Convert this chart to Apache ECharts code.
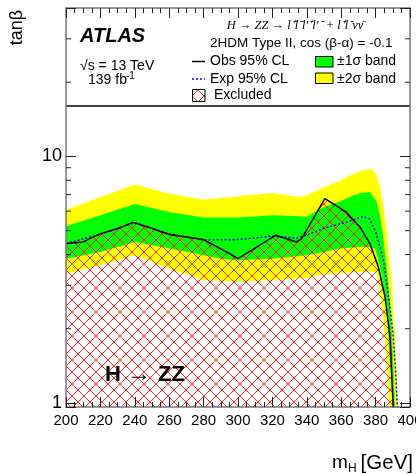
<!DOCTYPE html>
<html><head><meta charset="utf-8">
<script src="https://cdn.jsdelivr.net/npm/echarts@6/dist/echarts.min.js"></script>
<style>html,body{margin:0;padding:0;background:#fff}#c{width:416px;height:474px}</style>
</head><body><div id="c"></div>
<script>
// ---------------- data ----------------
const yLabelValues = [1, 10];
const yMinorTicks = [2, 3, 4, 5, 6, 7, 8, 9, 20, 30];

const obsMass = [200, 210, 220, 230, 239, 249, 260, 280, 295, 300, 322, 334, 337, 350.5, 363, 365, 371, 376.7, 381.6, 385.5, 388.4, 390.3];
const obsVal  = [4.43, 4.50, 4.86, 5.10, 5.40, 5.14, 4.82, 4.60, 4.04, 3.85, 4.79, 4.50, 4.64, 6.74, 5.95, 5.72, 5.17, 4.43, 3.56, 2.69, 1.86, 0.95];

const expMass = [200, 220, 240, 260, 280, 300, 320, 334, 340, 350, 360, 366, 373, 376.5, 380, 382.5, 384.5, 386.5, 388.5, 390, 391.5, 392.7];
const expVal  = [4.43, 4.84, 5.38, 4.85, 4.58, 4.60, 4.75, 4.66, 4.80, 5.12, 5.33, 5.50, 5.71, 5.59, 4.95, 4.30, 3.79, 3.05, 2.40, 1.94, 1.40, 0.95];

const yellowHighMass = [200, 220, 240, 260, 280, 295, 300, 320, 336, 340, 350, 360, 365, 372, 377.7, 380.5, 382.6, 384.5, 386.4, 389.4, 391.3, 393];
const yellowHigh     = [6.08, 6.84, 7.70, 7.06, 6.68, 6.84, 6.89, 7.10, 6.85, 6.95, 7.51, 8.00, 8.38, 8.75, 8.92, 8.40, 7.51, 6.30, 5.00, 3.06, 1.92, 0.95];

const greenHighMass = [200, 220, 240, 260, 280, 300, 320, 340, 350, 360, 365, 371, 376.7, 380.4, 382.5, 384.5, 387.4, 389.4, 391.3];
const greenHigh     = [5.21, 5.77, 6.41, 5.95, 5.65, 5.65, 5.77, 5.71, 6.23, 6.60, 6.84, 7.10, 7.17, 6.63, 5.80, 4.71, 3.06, 1.97, 0.95];

const greenLowMass = [200, 220, 240, 260, 280, 290, 300, 320, 340, 350, 360, 370, 375, 379.6, 381.6, 384.5, 386.4, 387.9, 390];
const greenLow     = [3.85, 4.10, 4.50, 4.23, 3.97, 3.85, 3.79, 3.85, 3.97, 4.10, 4.23, 4.29, 4.29, 4.24, 3.79, 3.05, 2.38, 1.64, 0.95];

const yellowLowMass = [200, 220, 240, 260, 280, 300, 320, 340, 350, 360, 370, 375, 380.5, 382, 384, 386, 387.9];
const yellowLow     = [3.35, 3.62, 3.97, 3.51, 3.15, 3.10, 3.15, 3.22, 3.33, 3.37, 3.40, 3.42, 3.40, 3.00, 2.40, 1.60, 0.95];

// ---------------- chart ----------------
const Y_MIN = 0.963, Y_MAX = 40, X_MIN = 200, X_MAX = 400;
const FONT = '"Liberation Sans", Arial, Helvetica, sans-serif';
const SERIF = '"Liberation Serif", "Times New Roman", serif';

function makeHatch() {
  const s = 12, c = document.createElement('canvas');
  c.width = s; c.height = s;
  const g = c.getContext('2d');
  g.strokeStyle = 'rgba(255,20,20,0.9)'; g.lineWidth = 1;
  g.beginPath();
  for (const d of [-s, 0, s]) {
    g.moveTo(d, 0); g.lineTo(d + s, s);
    g.moveTo(d + s, 0); g.lineTo(d, s);
  }
  g.stroke();
  return c;
}
const hatch = { image: makeHatch(), repeat: 'repeat' };

function pairs(m, v) { return m.map((x, i) => [x, v[i]]); }

function bandSeries(name, hiM, hi, loM, lo, color, z) {
  return {
    type: 'custom', name: name, z: z, clip: true, silent: true,
    data: [[X_MIN, 1]],
    renderItem: function (params, api) {
      const pts = [];
      for (let i = 0; i < hiM.length; i++) pts.push(api.coord([hiM[i], hi[i]]));
      for (let i = loM.length - 1; i >= 0; i--) pts.push(api.coord([loM[i], lo[i]]));
      return { type: 'polygon', shape: { points: pts }, style: { fill: color } };
    }
  };
}

function hatchSeries() {
  return {
    type: 'custom', name: 'Excluded', z: 4, clip: true, silent: true,
    data: [[X_MIN, 1]],
    renderItem: function (params, api) {
      const pts = [];
      for (let i = 0; i < obsMass.length; i++) pts.push(api.coord([obsMass[i], obsVal[i]]));
      pts.push(api.coord([obsMass[obsMass.length - 1], Y_MIN]));
      pts.push(api.coord([obsMass[0], Y_MIN]));
      return { type: 'polygon', shape: { points: pts }, style: { fill: hatch } };
    }
  };
}

const tickStyle = { color: '#222', width: 1 };
const frameStyle = { color: '#777', width: 1.5 };

function xAxisDef(pos, labels) {
  return {
    type: 'value', position: pos, min: X_MIN, max: X_MAX, interval: 20, z: 10,
    axisLine: { show: true, onZero: false, lineStyle: frameStyle },
    axisTick: { show: true, inside: true, length: 10, lineStyle: tickStyle },
    minorTick: { show: true, splitNumber: 4, length: 5, lineStyle: tickStyle },
    splitLine: { show: false }, minorSplitLine: { show: false },
    axisLabel: { show: labels, fontSize: 15, color: '#000', fontFamily: FONT, margin: 6 }
  };
}
function yAxisDef(pos, labels) {
  return {
    type: 'log', logBase: 10, position: pos, min: Y_MIN, max: Y_MAX, z: 10,
    axisLine: { show: true, onZero: false, lineStyle: frameStyle },
    axisTick: { show: true, inside: true, length: 10, lineStyle: tickStyle },
    minorTick: { show: false },
    splitLine: { show: false },
    axisLabel: {
      show: labels, fontSize: 18, color: '#000', fontFamily: FONT, margin: 4,
      showMinLabel: true, showMaxLabel: true,
      formatter: function (v) {
        for (const t of yLabelValues) if (Math.abs(v - t) < 1e-6 * t) return String(t);
        return '';
      }
    }
  };
}

const chart = echarts.init(document.getElementById('c'), null, { renderer: 'canvas', width: 416, height: 474 });

const option = {
  animation: false,
  backgroundColor: '#fff',
  grid: { left: 66, right: 6, top: 8, bottom: 67, containLabel: false, outerBoundsMode: 'none' },
  xAxis: [xAxisDef('bottom', true), xAxisDef('top', false)],
  yAxis: [yAxisDef('left', true), yAxisDef('right', false)],
  series: [
    bandSeries('±2σ band', yellowHighMass, yellowHigh, yellowLowMass, yellowLow, '#ffff00', 2),
    bandSeries('±1σ band', greenHighMass, greenHigh, greenLowMass, greenLow, '#00ff00', 3),
    hatchSeries(),
    {
      type: 'line', name: 'Exp 95% CL', z: 5, data: pairs(expMass, expVal), symbol: 'none', silent: true,
      lineStyle: { color: '#0000ff', width: 1.5, type: [2, 2] }
    },
    {
      type: 'line', name: 'Obs 95% CL', z: 6, data: pairs(obsMass, obsVal), symbol: 'none', silent: true,
      lineStyle: { color: '#000', width: 1.5 },
      markLine: {
        silent: true, symbol: 'none', label: { show: false },
        lineStyle: { color: '#000', width: 1.5, type: 'solid' },
        data: [{ yAxis: 16 }]
      }
    },
    {
      type: 'custom', name: 'minor ticks', z: 11, clip: false, silent: true,
      data: yMinorTicks.map(v => [X_MIN, v]),
      renderItem: function (params, api) {
        const v = api.value(1);
        const p = api.coord([X_MIN, v]), q = api.coord([X_MAX, v]);
        const st = { stroke: '#222', lineWidth: 1 };
        return {
          type: 'group', children: [
            { type: 'line', shape: { x1: p[0], y1: p[1], x2: p[0] + 5, y2: p[1] }, style: st },
            { type: 'line', shape: { x1: q[0], y1: q[1], x2: q[0] - 5, y2: q[1] }, style: st }
          ]
        };
      }
    }
  ],
  graphic: [
    { type: 'text', x: 17.5, y: 27.5, rotation: Math.PI / 2, z: 20,
      style: { text: 'tanβ', x: 0, y: 0, align: 'center', verticalAlign: 'middle', font: '18px ' + FONT, fill: '#000' } },
    { type: 'text', z: 20, style: { text: 'ATLAS', x: 80, y: 36, verticalAlign: 'middle', font: 'italic bold 20px ' + FONT, fill: '#000' } },
    { type: 'text', z: 20, style: { text: '√s = 13 TeV', x: 80, y: 66, verticalAlign: 'middle', font: '14px ' + FONT, fill: '#000' } },
    { type: 'text', z: 20, style: { text: '139 fb', x: 88, y: 80.5, verticalAlign: 'middle', font: '14px ' + FONT, fill: '#000' } },
    { type: 'text', z: 20, style: { text: '-1', x: 126, y: 76, verticalAlign: 'middle', font: '10px ' + FONT, fill: '#000' } },
    { type: 'text', z: 20, style: { text: 'H → ZZ → l⁺l⁻l′⁺l′⁻ + l⁺l⁻νν̄', x: 295, y: 26, align: 'center', verticalAlign: 'middle', font: 'italic 12.5px ' + SERIF, fill: '#000' } },
    { type: 'text', z: 20, style: { text: '2HDM Type II, cos (β-α) = -0.1', x: 210, y: 43, verticalAlign: 'middle', font: '13.5px ' + FONT, fill: '#000' } },
    { type: 'line', z: 20, shape: { x1: 192, y1: 61.5, x2: 205, y2: 61.5 }, style: { stroke: '#000', lineWidth: 1.5 } },
    { type: 'line', z: 20, shape: { x1: 192, y1: 79, x2: 205, y2: 79 }, style: { stroke: '#0000ff', lineWidth: 1.5, lineDash: [2, 2] } },
    { type: 'rect', z: 20, shape: { x: 192.5, y: 89.5, width: 12.5, height: 12 }, style: { fill: hatch, stroke: '#000', lineWidth: 1 } },
    { type: 'rect', z: 20, shape: { x: 315.5, y: 56.5, width: 17.5, height: 10.5 }, style: { fill: '#00ff00', stroke: '#000', lineWidth: 1 } },
    { type: 'rect', z: 20, shape: { x: 315.5, y: 73, width: 17.5, height: 10.5 }, style: { fill: '#ffff00', stroke: '#000', lineWidth: 1 } },
    { type: 'text', z: 20, style: { text: 'Obs 95% CL', x: 210, y: 61.5, verticalAlign: 'middle', font: '14px ' + FONT, fill: '#000' } },
    { type: 'text', z: 20, style: { text: 'Exp 95% CL', x: 210, y: 79, verticalAlign: 'middle', font: '14px ' + FONT, fill: '#000' } },
    { type: 'text', z: 20, style: { text: 'Excluded', x: 214, y: 95.5, verticalAlign: 'middle', font: '14px ' + FONT, fill: '#000' } },
    { type: 'text', z: 20, style: { text: '±1σ band', x: 337, y: 61.5, verticalAlign: 'middle', font: '14px ' + FONT, fill: '#000' } },
    { type: 'text', z: 20, style: { text: '±2σ band', x: 337, y: 79, verticalAlign: 'middle', font: '14px ' + FONT, fill: '#000' } },
    { type: 'text', z: 20, style: { text: 'H', x: 105, y: 375, verticalAlign: 'middle', font: 'bold 22px ' + FONT, fill: '#000' } },
    { type: 'text', z: 20, style: { text: '→', x: 139, y: 375, align: 'center', verticalAlign: 'middle', font: '24px ' + SERIF, fill: '#000' } },
    { type: 'text', z: 20, style: { text: 'ZZ', x: 158, y: 375, verticalAlign: 'middle', font: 'bold 22px ' + FONT, fill: '#000' } },
    { type: 'text', z: 20, style: { text: 'm', x: 332, y: 463, verticalAlign: 'middle', font: '19px ' + FONT, fill: '#000' } },
    { type: 'text', z: 20, style: { text: 'H', x: 348, y: 469, verticalAlign: 'middle', font: '12px ' + FONT, fill: '#000' } },
    { type: 'text', z: 20, style: { text: '[GeV]', x: 413, y: 463, align: 'right', verticalAlign: 'middle', font: '20.5px ' + FONT, fill: '#000' } }
  ]
};
chart.setOption(option);
</script>
</body></html>
